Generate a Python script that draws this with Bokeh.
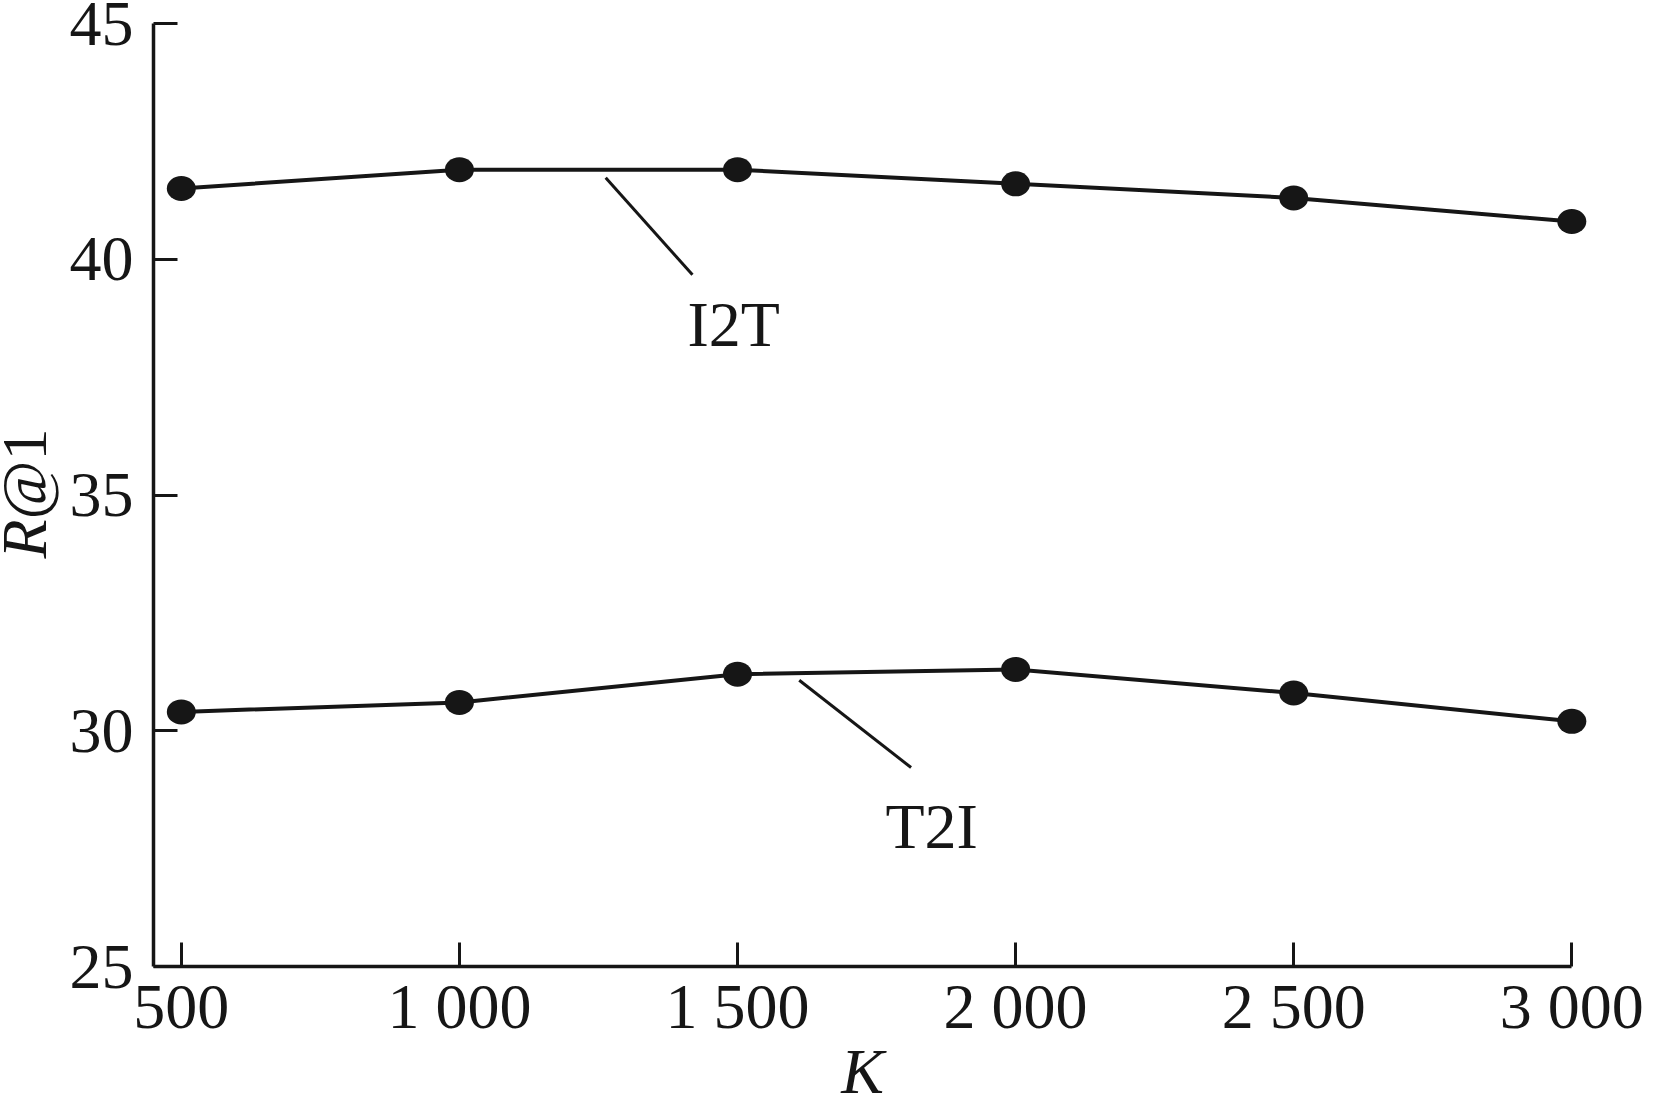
import math
from bokeh.plotting import figure
from bokeh.models import Range1d, FixedTicker
from bokeh.layouts import row, column
from bokeh.core.properties import value
from bokeh.embed import file_html
from bokeh.resources import INLINE

# ---- data ----
k_values = [500, 1000, 1500, 2000, 2500, 3000]
i2t_values = [41.5, 41.9, 41.9, 41.6, 41.3, 40.8]
t2i_values = [30.4, 30.6, 31.2, 31.3, 30.8, 30.2]
x_tick_labels = ["500", "1 000", "1 500", "2 000", "2 500", "3 000"]
y_ticks = [25, 30, 35, 40, 45]
y_tick_labels = ["25", "30", "35", "40", "45"]
series_names = ["I2T", "T2I"]
x_title = "K"
y_title_italic = "R"
y_title_rest = "@1"

# ---- style ----
C = "#161616"
FONT = "Liberation Serif"
FS = "64px"
LEFT_W = 60
TOTAL_W, TOTAL_H = 1655, 1098
MAIN_H = 1046

# ---- main chart ----
p = figure(width=TOTAL_W - LEFT_W, height=MAIN_H,
           x_range=Range1d(450, 3030), y_range=Range1d(25, 45),
           output_backend="svg", toolbar_location=None,
           min_border_left=93, min_border_top=23,
           min_border_right=67, min_border_bottom=80)
p.outline_line_color = None
p.grid.visible = False

for ax in (p.xaxis[0], p.yaxis[0]):
    ax.axis_line_width = 3.5
    ax.axis_line_color = C
    ax.major_tick_in = 24
    ax.major_tick_out = 0
    ax.major_tick_line_width = 3
    ax.major_tick_line_color = C
    ax.minor_tick_line_color = None
    ax.major_label_text_font = FONT
    ax.major_label_text_font_size = FS
    ax.major_label_text_color = C

p.xaxis[0].ticker = FixedTicker(ticks=k_values)
p.xaxis[0].bounds = (450, 3000)
p.xaxis[0].major_label_overrides = {k: s for k, s in zip(k_values, x_tick_labels)}
p.xaxis[0].major_label_standoff = 4
p.yaxis[0].ticker = FixedTicker(ticks=y_ticks)
p.yaxis[0].major_label_overrides = {t: s for t, s in zip(y_ticks, y_tick_labels)}
p.yaxis[0].major_label_standoff = 20

for vals in (i2t_values, t2i_values):
    p.line(k_values, vals, line_width=4, line_color=C)
    p.ellipse(x=k_values, y=vals, width=29, height=25,
              width_units="screen", height_units="screen",
              fill_color=C, line_color=None)

p.segment(x0=[1263, 1611], y0=[41.73, 31.07], x1=[1419, 1812], y1=[39.67, 29.22],
          line_color=C, line_width=3)
p.text(x=[1493, 1849], y=[38.62, 27.96], text=series_names,
       text_font=value(FONT), text_font_size=FS, text_color=C,
       text_align="center", text_baseline="alphabetic")

# ---- strip below for the x title ----
strip = figure(width=TOTAL_W - LEFT_W, height=TOTAL_H - MAIN_H,
               x_range=p.x_range, y_range=Range1d(0, TOTAL_H - MAIN_H),
               x_axis_type=None, y_axis_type=None,
               output_backend="svg", toolbar_location=None,
               min_border=0, min_border_left=93, min_border_right=67)
strip.outline_line_color = None
strip.text(x=[1725], y=[27], text=[x_title],
           text_font=value(FONT), text_font_size=FS, text_font_style="italic",
           text_color=C, text_align="center", text_baseline="alphabetic")

# ---- strip on the left for the y title ----
left = figure(width=LEFT_W, height=TOTAL_H,
              x_range=Range1d(0, LEFT_W), y_range=Range1d(0, TOTAL_H),
              x_axis_type=None, y_axis_type=None,
              output_backend="svg", toolbar_location=None, min_border=0)
left.outline_line_color = None
left.text(x=[24], y=[540], text=[y_title_italic], angle=math.pi / 2,
          text_font=value(FONT), text_font_size=FS, text_font_style="italic",
          text_color=C, text_align="left", text_baseline="alphabetic")
left.text(x=[24], y=[579], text=[y_title_rest], angle=math.pi / 2,
          text_font=value(FONT), text_font_size=FS,
          text_color=C, text_align="left", text_baseline="alphabetic")

layout = row(left, column(p, strip))
open("out.html", "w").write(file_html(layout, INLINE))
